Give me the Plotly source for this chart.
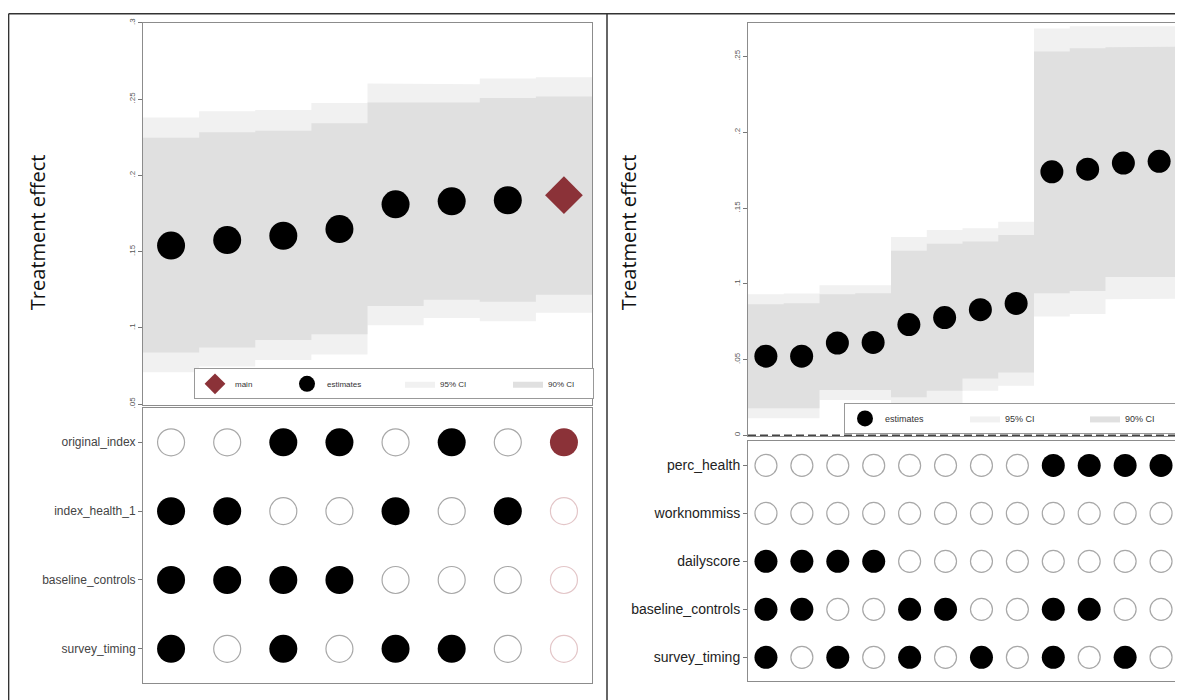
import plotly.graph_objects as go

# ---------------- data: left panel ----------------
left_est = [0.154, 0.1576, 0.1604, 0.1648, 0.181, 0.183, 0.1837, 0.187]
left_main_idx = 7
left_ci95_hi = [0.238, 0.242, 0.2428, 0.2474, 0.2602, 0.2598, 0.2635, 0.2643]
left_ci90_hi = [0.2246, 0.2283, 0.2293, 0.2341, 0.2478, 0.2478, 0.2507, 0.2517]
left_ci90_lo = [0.0839, 0.0872, 0.092, 0.0959, 0.1143, 0.1185, 0.1172, 0.1217]
left_ci95_lo = [0.0709, 0.0746, 0.0789, 0.0826, 0.1017, 0.1065, 0.1043, 0.110]
left_rows = ["original_index", "index_health_1", "baseline_controls", "survey_timing"]
left_spec = [
    [0, 0, 1, 1, 0, 1, 0, 1],
    [1, 1, 0, 0, 1, 0, 1, 0],
    [1, 1, 1, 1, 0, 0, 0, 0],
    [1, 0, 1, 0, 1, 1, 0, 0],
]
left_yticks = [0.05, 0.1, 0.15, 0.2, 0.25, 0.3]
left_yticktext = [".05", ".1", ".15", ".2", ".25", ".3"]

# ---------------- data: right panel ----------------
right_est = [0.0522, 0.0522, 0.0609, 0.0613, 0.0731, 0.0777, 0.0829, 0.087,
             0.1739, 0.1756, 0.1797, 0.1808]
right_ci95_hi = [0.093, 0.0935, 0.0991, 0.0991, 0.1309, 0.1355, 0.1366, 0.141,
                 0.2685, 0.270, 0.270, 0.270]
right_ci90_hi = [0.0865, 0.0872, 0.093, 0.0937, 0.1218, 0.1264, 0.1279, 0.1322,
                 0.2533, 0.2554, 0.2561, 0.2565]
right_ci90_lo = [0.0179, 0.0179, 0.0298, 0.0298, 0.0251, 0.0294, 0.0375, 0.0414,
                 0.0937, 0.0952, 0.1044, 0.1044]
right_ci95_lo = [0.0113, 0.0113, 0.0233, 0.0233, 0.017, 0.019, 0.0294, 0.0327,
                 0.0784, 0.080, 0.0898, 0.0902]
right_rows = ["perc_health", "worknommiss", "dailyscore", "baseline_controls", "survey_timing"]
right_spec = [
    [0, 0, 0, 0, 0, 0, 0, 0, 1, 1, 1, 1],
    [0, 0, 0, 0, 0, 0, 0, 0, 0, 0, 0, 0],
    [1, 1, 1, 1, 0, 0, 0, 0, 0, 0, 0, 0],
    [1, 1, 0, 0, 1, 1, 0, 0, 1, 1, 0, 0],
    [1, 0, 1, 0, 1, 0, 1, 0, 1, 0, 1, 0],
]
right_yticks = [0, 0.05, 0.1, 0.15, 0.2, 0.25]
right_yticktext = ["0", ".05", ".1", ".15", ".2", ".25"]
zero_line = 0

legend_labels = ["main", "estimates", "95% CI", "90% CI"]
y_title = "Treatment effect"

# ---------------- styles ----------------
W, H = 1183, 700
PAGE_OFF = 8  # default page margin around the figure
RED = "#8b3238"
C95 = "#f1f1f1"
C90 = "#e0e0e0"
OPEN_LINE = "#a8a8a8"
OPEN_RED = "#e3c6c8"
AXIS_LINE = "#8c8c8c"
LW_LEFT = [47, 68, 63, 40]     # legend entry widths: main, estimates, 95, 90
LW_RIGHT = [75, 75, 50]        # estimates, 95, 90


def px_x(p):
    return (p - PAGE_OFF) / W


def px_y(p):
    return 1 - (p - PAGE_OFF) / H


def step_band(lo, hi):
    n = len(lo)
    xs, ys = [], []
    for i in range(n):
        xs += [i + 0.5, i + 1.5]
        ys += [hi[i], hi[i]]
    for i in reversed(range(n)):
        xs += [i + 1.5, i + 0.5]
        ys += [lo[i], lo[i]]
    return xs, ys


fig = go.Figure()

# ---------- left top ----------
xs, ys = step_band(left_ci95_lo, left_ci95_hi)
fig.add_trace(go.Scatter(x=xs, y=ys, fill="toself", fillcolor=C95, mode="lines",
                         line=dict(width=0), name=legend_labels[2], legend="legend",
                         legendrank=3, legendwidth=LW_LEFT[2], hoverinfo="skip",
                         xaxis="x", yaxis="y"))
xs, ys = step_band(left_ci90_lo, left_ci90_hi)
fig.add_trace(go.Scatter(x=xs, y=ys, fill="toself", fillcolor=C90, mode="lines",
                         line=dict(width=0), name=legend_labels[3], legend="legend",
                         legendrank=4, legendwidth=LW_LEFT[3], hoverinfo="skip",
                         xaxis="x", yaxis="y"))
n_left = len(left_est)
est_x = [i + 1 for i in range(n_left) if i != left_main_idx]
est_y = [left_est[i] for i in range(n_left) if i != left_main_idx]
fig.add_trace(go.Scatter(x=est_x, y=est_y, mode="markers",
                         marker=dict(size=28, color="black", line=dict(width=0)),
                         name=legend_labels[1], legend="legend", legendrank=2,
                         legendwidth=LW_LEFT[1], xaxis="x", yaxis="y"))
fig.add_trace(go.Scatter(x=[left_main_idx + 1], y=[left_est[left_main_idx]], mode="markers",
                         marker=dict(size=29, color=RED, symbol="diamond", line=dict(width=0)),
                         name=legend_labels[0], legend="legend", legendrank=1,
                         legendwidth=LW_LEFT[0], xaxis="x", yaxis="y"))

# ---------- left bottom ----------
for r, row in enumerate(left_spec):
    for j, v in enumerate(row):
        is_main = (j == left_main_idx)
        if v:
            col = RED if is_main else "black"
            mk = dict(size=28, color=col, line=dict(width=0))
        else:
            mk = dict(size=27, color="white",
                      line=dict(width=1.2, color=OPEN_RED if is_main else OPEN_LINE))
        fig.add_trace(go.Scatter(x=[j + 1], y=[left_rows[r]], mode="markers", marker=mk,
                                 showlegend=False, xaxis="x2", yaxis="y2"))

# ---------- right top ----------
xs, ys = step_band(right_ci95_lo, right_ci95_hi)
fig.add_trace(go.Scatter(x=xs, y=ys, fill="toself", fillcolor=C95, mode="lines",
                         line=dict(width=0), name=legend_labels[2], legend="legend2",
                         legendrank=3, legendwidth=LW_RIGHT[1], hoverinfo="skip",
                         xaxis="x3", yaxis="y3"))
xs, ys = step_band(right_ci90_lo, right_ci90_hi)
fig.add_trace(go.Scatter(x=xs, y=ys, fill="toself", fillcolor=C90, mode="lines",
                         line=dict(width=0), name=legend_labels[3], legend="legend2",
                         legendrank=4, legendwidth=LW_RIGHT[2], hoverinfo="skip",
                         xaxis="x3", yaxis="y3"))
n_right = len(right_est)
fig.add_trace(go.Scatter(x=list(range(1, n_right + 1)), y=right_est, mode="markers",
                         marker=dict(size=23, color="black", line=dict(width=0)),
                         name=legend_labels[1], legend="legend2", legendrank=2,
                         legendwidth=LW_RIGHT[0], xaxis="x3", yaxis="y3"))

# ---------- right bottom ----------
for r, row in enumerate(right_spec):
    for j, v in enumerate(row):
        if v:
            mk = dict(size=23, color="black", line=dict(width=0))
        else:
            mk = dict(size=22, color="white", line=dict(width=1.2, color=OPEN_LINE))
        fig.add_trace(go.Scatter(x=[j + 1], y=[right_rows[r]], mode="markers", marker=mk,
                                 showlegend=False, xaxis="x4", yaxis="y4"))

# ---------- axes ----------
frame = dict(showline=True, mirror=True, linecolor=AXIS_LINE, linewidth=1,
             showgrid=False, zeroline=False)
xhidden = dict(showticklabels=False, ticks="", **frame)

lx = [px_x(143), px_x(592)]
rx = [px_x(748), px_x(1177)]

fig.update_layout(
    width=W, height=H,
    margin=dict(l=0, r=0, t=0, b=0),
    paper_bgcolor="white", plot_bgcolor="white",
    font=dict(family="Liberation Sans, Arial, sans-serif", color="#333"),
    xaxis=dict(domain=lx, range=[0.5, n_left + 0.5], anchor="y", **xhidden),
    yaxis=dict(domain=[px_y(405), px_y(18)], range=[0.0495, 0.3], anchor="x",
               tickvals=left_yticks, ticktext=left_yticktext, tickangle=-90,
               ticks="outside", ticklen=4, tickcolor="#777",
               tickfont=dict(size=8, color="#555"), **frame),
    xaxis2=dict(domain=lx, range=[0.5, n_left + 0.5], anchor="y2", **xhidden),
    yaxis2=dict(domain=[px_y(687), px_y(408)], anchor="x2", type="category",
                categoryorder="array", categoryarray=left_rows,
                range=[len(left_rows) - 0.5, -0.5],
                ticks="outside", ticklen=4, tickcolor="#777",
                tickfont=dict(size=12, color="#444"), **frame),
    xaxis3=dict(domain=rx, range=[0.5, n_right + 0.5], anchor="y3", **xhidden),
    yaxis3=dict(domain=[px_y(437), px_y(18)], range=[-0.0008, 0.2722], anchor="x3",
                tickvals=right_yticks, ticktext=right_yticktext, tickangle=-90,
                ticks="outside", ticklen=4, tickcolor="#777",
                tickfont=dict(size=8, color="#555"), **frame),
    xaxis4=dict(domain=[px_x(748), px_x(1179)], range=[0.5, n_right + 0.5], anchor="y4", **xhidden),
    yaxis4=dict(domain=[px_y(685), px_y(442)], anchor="x4", type="category",
                categoryorder="array", categoryarray=right_rows,
                range=[len(right_rows) - 0.5, -0.5],
                ticks="outside", ticklen=4, tickcolor="#777",
                tickfont=dict(size=14, color="#222"), **frame),
    legend=dict(x=px_x(194), y=px_y(368), xanchor="left", yanchor="top",
                orientation="h", bordercolor="#999", borderwidth=1, bgcolor="white",
                font=dict(size=8, color="#333"), itemsizing="trace",
                traceorder="normal"),
    legend2=dict(x=px_x(844), y=px_y(403), xanchor="left", yanchor="top",
                 orientation="h", bordercolor="#999", borderwidth=1, bgcolor="white",
                 font=dict(size=9, color="#333"), itemsizing="trace",
                 traceorder="normal"),
    showlegend=True,
)

# y titles
for xc in (37, 628):
    fig.add_annotation(text=y_title, x=px_x(xc), y=px_y(230), xref="paper", yref="paper",
                       xanchor="center", yanchor="middle",
                       textangle=-90, showarrow=False,
                       font=dict(family="Open Sans, sans-serif", size=20, color="#111"))

# dashed zero reference line in right top panel
fig.add_shape(type="line", xref="x3 domain", yref="y3", x0=0, x1=1, y0=zero_line, y1=zero_line,
              line=dict(color="#444", width=1.5, dash="8px,4px"))

# outer frames of the combined graph
frame_line = dict(color="#333", width=1.5)
fig.add_shape(type="line", xref="paper", yref="paper", x0=px_x(8.6), x1=1,
              y0=px_y(8.8), y1=px_y(8.8), line=frame_line)
fig.add_shape(type="line", xref="paper", yref="paper", x0=px_x(8.6), x1=px_x(8.6),
              y0=px_y(8.8), y1=0, line=frame_line)
fig.add_shape(type="line", xref="paper", yref="paper", x0=px_x(607), x1=px_x(607),
              y0=px_y(8.8), y1=0, line=frame_line)

fig.write_html("out.html")
